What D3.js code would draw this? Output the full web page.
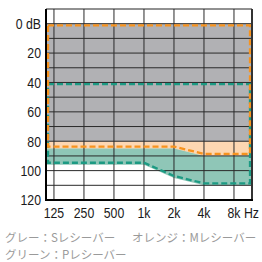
<!DOCTYPE html>
<html>
<head>
<meta charset="utf-8">
<script src="https://cdn.jsdelivr.net/npm/d3@7"></script>
<style>
  body { margin: 0; background: #fff; }
  svg { display: block; }
  .tick-label { font-family: "Liberation Sans", Arial, sans-serif; font-size: 15px; fill: #1a1a1a; }
  .caption { font-family: "Noto Sans CJK JP", sans-serif; font-size: 11.5px; fill: #9a9a9a; }
</style>
</head>
<body>
<div id="chart"></div>
<script>
// frequencies (Hz) and their tick labels
const freqs = [125, 250, 500, 1000, 2000, 4000, 8000];
const freqLabels = ["125", "250", "500", "1k", "2k", "4k", "8k"];
const dbTicks = [0, 20, 40, 60, 80, 100, 120];
const dbTickLabels = ["0 dB", "20", "40", "60", "80", "100", "120"];

// fitting range of each receiver, dB HL per frequency
const sTop = [0, 0, 0, 0, 0, 0, 0];
const sBottom = [80, 80, 80, 80, 80, 80, 80];
const mTop = [0, 0, 0, 0, 0, 0, 0];
const mBottom = [85, 85, 85, 85, 85, 90, 90];
const pTop = [40, 40, 40, 40, 40, 40, 40];
const pBottom = [96, 96, 96, 96, 105, 110, 110];

const captions = [
  {text: "グレー：Sレシーバー", col: 0, row: 0},
  {text: "オレンジ：Mレシーバー", col: 1, row: 0},
  {text: "グリーン：Pレシーバー", col: 0, row: 1}
];

const width = 262, height = 262;
const plotLeft = 46, plotRight = 252, plotTop = 9, plotBottom = 200;
const narrow = 0.82; // tick font is a condensed face

const svg = d3.select("#chart")
  .append("svg")
    .attr("width", width)
    .attr("height", height);

const x = d3.scaleLog()
  .domain([104, 12130])
  .range([plotLeft, plotRight]);

const y = d3.scaleLinear()
  .domain([-10, 120])
  .range([plotTop, plotBottom]);

// region points run from plot edge to plot edge
const regionPoints = (values) => {
  const pts = freqs.map((f, i) => [x(f), y(values[i])]);
  return [[plotLeft, pts[0][1]], ...pts, [plotRight, pts[pts.length - 1][1]]];
};

const areaPath = (topVals, bottomVals) => {
  const t = regionPoints(topVals), b = regionPoints(bottomVals).reverse();
  return d3.line()([...t, ...b]) + "Z";
};

// dashed outline sits just inside the filled region
const outlinePath = (topVals, bottomVals, inset) => {
  const t = regionPoints(topVals).map(([px, py]) => [px, py + inset * 0.8]);
  const b = regionPoints(bottomVals).map(([px, py]) => [px, py - inset]).reverse();
  t[0][0] += inset; t[t.length - 1][0] -= inset;
  b[0][0] -= inset; b[b.length - 1][0] += inset;
  return d3.line()([...t, ...b]) + "Z";
};

const regions = [
  {top: pTop, bottom: pBottom, fill: "#8fc6b7"},
  {top: mTop, bottom: mBottom, fill: "#fdd7b2"},
  {top: sTop, bottom: sBottom, fill: "#b1b1b4"}
];

svg.selectAll("path.region")
  .data(regions)
  .enter().append("path")
    .attr("class", "region")
    .attr("d", d => areaPath(d.top, d.bottom))
    .attr("fill", d => d.fill);

// grid
const gridDb = d3.range(0, 120, 10);
svg.append("g")
  .selectAll("line")
  .data(gridDb)
  .enter().append("line")
    .attr("x1", plotLeft).attr("x2", plotRight)
    .attr("y1", d => y(d)).attr("y2", d => y(d))
    .attr("stroke", "#2a2a2a")
    .attr("stroke-width", 1);

svg.append("g")
  .selectAll("line")
  .data(freqs)
  .enter().append("line")
    .attr("x1", d => x(d)).attr("x2", d => x(d))
    .attr("y1", plotTop).attr("y2", plotBottom)
    .attr("stroke", "#2a2a2a")
    .attr("stroke-width", 1);

// dashed outlines
const outlines = [
  {top: pTop, bottom: pBottom, stroke: "#1c9a83"},
  {top: mTop, bottom: mBottom, stroke: "#f7931e"}
];

svg.selectAll("path.outline")
  .data(outlines)
  .enter().append("path")
    .attr("class", "outline")
    .attr("d", d => outlinePath(d.top, d.bottom, 2))
    .attr("fill", "none")
    .attr("stroke", d => d.stroke)
    .attr("stroke-width", 2.3)
    .attr("stroke-dasharray", "6,3");

// frame
svg.append("line")
  .attr("x1", plotLeft).attr("x2", plotRight)
  .attr("y1", plotTop).attr("y2", plotTop)
  .attr("stroke", "#222").attr("stroke-width", 1);
svg.append("line")
  .attr("x1", plotRight).attr("x2", plotRight)
  .attr("y1", plotTop).attr("y2", plotBottom)
  .attr("stroke", "#333").attr("stroke-width", 2);
svg.append("line")
  .attr("x1", plotLeft).attr("x2", plotLeft)
  .attr("y1", plotTop).attr("y2", plotBottom + 1)
  .attr("stroke", "#000").attr("stroke-width", 2);
svg.append("line")
  .attr("x1", plotLeft - 1).attr("x2", plotRight + 1)
  .attr("y1", plotBottom).attr("y2", plotBottom)
  .attr("stroke", "#000").attr("stroke-width", 2);

// tick labels
svg.append("g")
  .selectAll("text")
  .data(dbTicks)
  .enter().append("text")
    .attr("class", "tick-label")
    .attr("transform", d => `translate(${plotLeft - 5},${y(d)}) scale(${narrow},1)`)
    .attr("dy", "0.36em")
    .attr("text-anchor", "end")
    .text((d, i) => dbTickLabels[i]);

svg.append("g")
  .selectAll("text")
  .data(freqs)
  .enter().append("text")
    .attr("class", "tick-label")
    .attr("transform", d => `translate(${x(d)},218) scale(${narrow},1)`)
    .attr("text-anchor", "middle")
    .text((d, i) => freqLabels[i]);

svg.append("text")
  .attr("class", "tick-label")
  .attr("transform", `translate(${x(8000) + 10},218) scale(${narrow},1)`)
  .text("Hz");

// caption
svg.append("g")
  .selectAll("text")
  .data(captions)
  .enter().append("text")
    .attr("class", "caption")
    .attr("x", d => 5 + d.col * 127)
    .attr("y", d => 242 + d.row * 17)
    .text(d => d.text);
</script>
</body>
</html>
